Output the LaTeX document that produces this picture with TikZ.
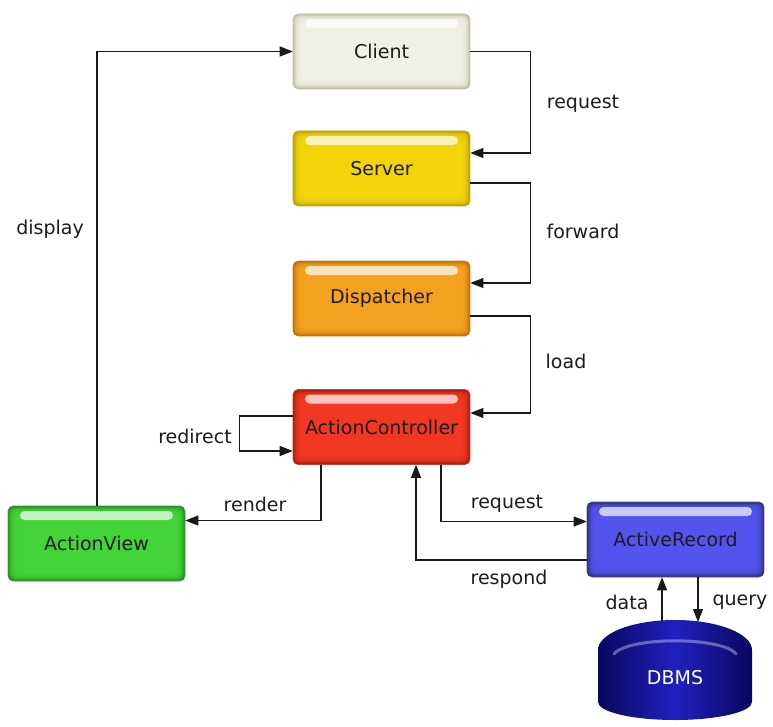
\documentclass[tikz,border=0pt]{standalone}
\usepackage{fontspec}
\setmainfont{DejaVu Sans}
\usetikzlibrary{arrows.meta,calc}
\definecolor{clientmain}{HTML}{F4F3EA}
\definecolor{clientedge}{HTML}{BDBA9E}
\definecolor{servermain}{HTML}{F5D70C}
\definecolor{serveredge}{HTML}{B59A00}
\definecolor{dispmain}{HTML}{F8A423}
\definecolor{dispedge}{HTML}{B86C00}
\definecolor{acmain}{HTML}{F43A24}
\definecolor{acedge}{HTML}{A3180A}
\definecolor{avmain}{HTML}{46D83A}
\definecolor{avedge}{HTML}{1F8A18}
\definecolor{armain}{HTML}{5656F2}
\definecolor{aredge}{HTML}{2A2A6E}
\definecolor{dbmain}{HTML}{2020C0}
\definecolor{dbedge}{HTML}{08085E}
\definecolor{txt}{HTML}{1C1C1C}
\tikzset{
  gbox/.style={rounded corners=5pt, minimum width=177pt, minimum height=75pt,
    inner sep=0pt, font=\fontsize{19}{22}\selectfont, text=txt,
    draw=#1edge!80, line width=0.6pt,
    path picture={
      \fill[#1edge] (path picture bounding box.south west) rectangle (path picture bounding box.north east);
      \foreach \d in {1,...,9}{
        \fill[#1main, opacity=0.33, rounded corners=5pt]
          ($(path picture bounding box.south west)+(\d pt,\d pt)$) rectangle
          ($(path picture bounding box.north east)-(\d pt,\d pt)$);
      }
      \fill[white, opacity=0.7, rounded corners=4.5pt]
        ($(path picture bounding box.north west)+(12pt,-5pt)$) rectangle
        ($(path picture bounding box.north east)+(-12pt,-14pt)$);
    }},
  lbl/.style={font=\fontsize{19}{22}\selectfont, text=txt, inner sep=0pt},
  arr/.style={line width=1.2pt, draw=black!90, -{Triangle[length=13pt,width=10pt]}}
}
\begin{document}
\begin{tikzpicture}[x=1pt,y=-1pt]
\useasboundingbox[fill=white] (0,0) rectangle (773,727);

% DBMS cylinder
\shade[left color=dbedge, right color=dbedge, middle color=dbmain]
  (598,650) arc[start angle=180, end angle=360, x radius=77, y radius=30]
  -- (752,702) arc[start angle=0, end angle=180, x radius=77, y radius=18] -- cycle;
\draw[white, opacity=0.35, line width=3pt, line cap=round]
  (614,654) arc[start angle=190, end angle=350, x radius=62, y radius=16];
\node[font=\fontsize{19}{22}\selectfont, text=white, inner sep=0pt] (dbms) at (675,678) {DBMS};

% boxes
\node[gbox=client] (client) at (381.5,51.5) {Client};
\node[gbox=server] (server) at (381.5,168.5) {Server};
\node[gbox=disp] (disp) at (381.5,298.5) {Dispatcher};
\node[gbox=ac] (ac) at (381.5,427) {ActionController};
\node[gbox=av] (av) at (96.5,543.5) {ActionView};
\node[gbox=ar] (ar) at (675.5,539.5) {ActiveRecord};

% connectors
\draw[arr] (client.east) -- ++(60,0) |- ([yshift=15.5pt]server.east);
\draw[arr] ([yshift=-14.5pt]server.east) -- ++(60,0) |- ([yshift=15.5pt]disp.east);
\draw[arr] ([yshift=-17.5pt]disp.east) -- ++(60,0) |- ([yshift=14pt]ac.east);
\draw[arr] ([yshift=11pt]ac.west) -- ++(-53,0) |- ([yshift=-24pt]ac.west);
\draw[arr] ([xshift=-60.5pt]ac.south) |- ([yshift=23pt]av.east);
\draw[arr] ([xshift=0.5pt]av.north) |- (client.west);
\draw[arr] ([xshift=59.5pt]ac.south) |- ([yshift=18pt]ar.west);
\draw[arr] ([yshift=-20.5pt]ar.west) -| ([xshift=34.5pt]ac.south);
\coordinate (dA) at (662,621);
\coordinate (dQ) at (698,622);
\draw[arr] (dA) -- (dA |- ar.south);
\draw[arr] (ar.south -| dQ) -- (dQ);

% labels
\node[lbl] (l1) at (583,104) {request};
\node[lbl] (l2) at (583,231) {forward};
\node[lbl] (l3) at (566,361) {load};
\node[lbl] (l4) at (195,436) {redirect};
\node[lbl] (l5) at (255,504) {render};
\node[lbl] (l6) at (50,229) {display};
\node[lbl] (l7) at (507,504) {request};
\node[lbl] (l8) at (509,579) {respond};
\node[lbl] (l9) at (627,602) {data};
\node[lbl] (l10) at (740,602) {query};
\end{tikzpicture}
\end{document}
